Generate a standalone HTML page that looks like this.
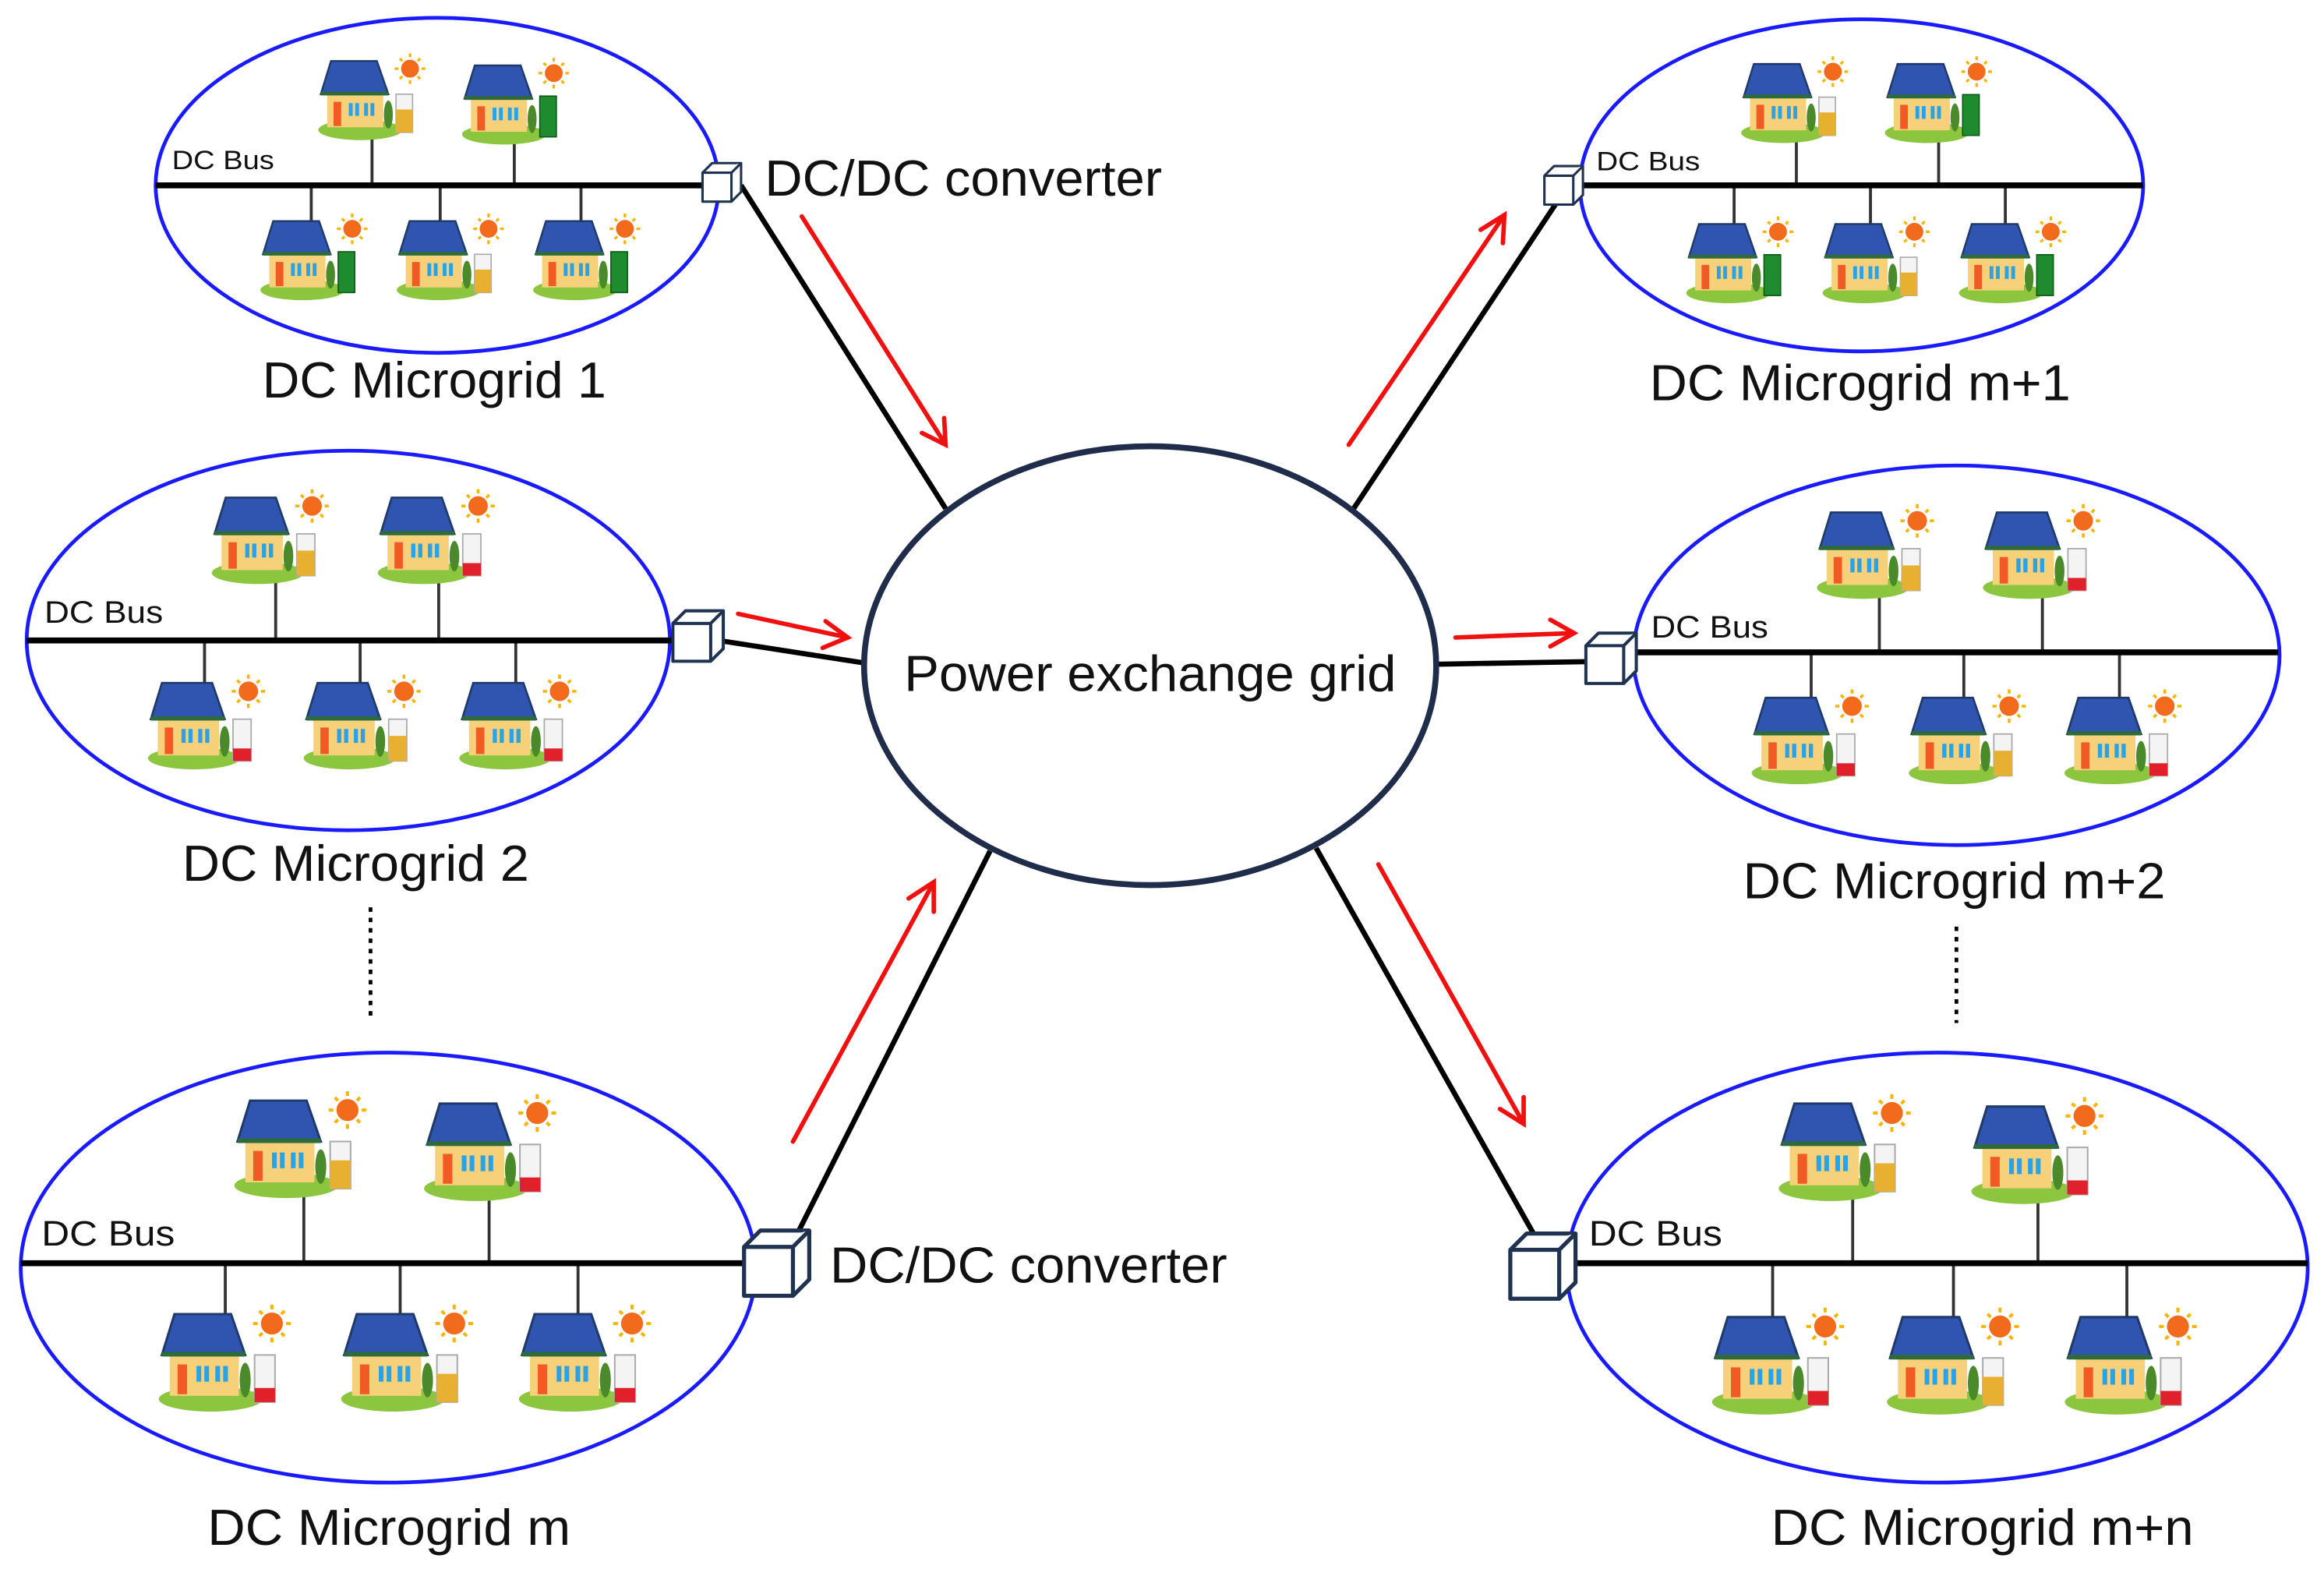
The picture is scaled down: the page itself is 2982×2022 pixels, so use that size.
<!DOCTYPE html>
<html><head><meta charset="utf-8"><style>
html,body{margin:0;padding:0;background:#fff;}
svg{display:block;}
text{font-family:"Liberation Sans",Arial,sans-serif;fill:#111;}
</style></head><body>
<svg width="2982" height="2022" viewBox="0 0 1568 1063" preserveAspectRatio="none" xmlns="http://www.w3.org/2000/svg">
<defs>
 <g id="hb">
  <ellipse cx="35" cy="60" rx="33" ry="8" fill="#8cc63f"/>
  <rect x="9" y="30" width="44" height="28" fill="#f7d07a"/>
  <polygon points="4,32 12,6 48,6 57,32" fill="#2f55b0" stroke="#1f3a6a" stroke-width="1.5"/>
  <rect x="4" y="30" width="53" height="3" fill="#2e6b3a"/>
  <rect x="14" y="38" width="6" height="19" fill="#f15a24"/>
  <rect x="26" y="39" width="3" height="10" fill="#29a3e8"/><rect x="31" y="39" width="3" height="10" fill="#29a3e8"/>
  <rect x="38" y="39" width="3" height="10" fill="#29a3e8"/><rect x="43" y="39" width="3" height="10" fill="#29a3e8"/>
  <ellipse cx="57" cy="48" rx="3.5" ry="11" fill="#4a8a2a"/>
  <circle cx="74" cy="12" r="7" fill="#f26b1d"/>
  <g stroke="#f7b500" stroke-width="2">
   <line x1="74" y1="0" x2="74" y2="3"/><line x1="74" y1="21" x2="74" y2="24"/>
   <line x1="62" y1="12" x2="65" y2="12"/><line x1="83" y1="12" x2="86" y2="12"/>
   <line x1="66" y1="4" x2="68" y2="6"/><line x1="80" y1="18" x2="82" y2="20"/>
   <line x1="82" y1="4" x2="80" y2="6"/><line x1="66" y1="20" x2="68" y2="18"/>
  </g>
 </g>
 <g id="hy"><use href="#hb"/><rect x="63" y="32" width="13" height="30" fill="#f4f4f4" stroke="#aaa"/><rect x="63" y="44" width="13" height="18" fill="#e8b030"/></g>
 <g id="hg"><use href="#hb"/><rect x="63" y="30" width="13" height="32" fill="#1e8c2e" stroke="#0d5a18"/></g>
 <g id="hr"><use href="#hb"/><rect x="63" y="32" width="13" height="30" fill="#f4f4f4" stroke="#aaa"/><rect x="63" y="53" width="13" height="9" fill="#e0202a"/></g>
</defs>

<g stroke="#000" stroke-width="3.5" fill="none">
 <line x1="500" y1="125" x2="638" y2="343"/>
 <line x1="485" y1="432" x2="582" y2="447"/>
 <line x1="535" y1="838" x2="668" y2="574"/>
 <line x1="912" y1="345" x2="1058" y2="125"/>
 <line x1="970" y1="448" x2="1085" y2="446"/>
 <line x1="888" y1="572" x2="1038" y2="838"/>
</g>

<ellipse cx="776" cy="449" rx="193" ry="148" fill="#fff" stroke="#1f2d4a" stroke-width="4"/>
<text x="610" y="466" font-size="34" textLength="332" lengthAdjust="spacingAndGlyphs">Power exchange grid</text>

<g stroke="#f01010" stroke-width="3" fill="none" stroke-linecap="round">
 <line x1="541" y1="146" x2="638" y2="300"/><polyline points="622,292 638,300 637,282"/>
 <line x1="498" y1="414" x2="572" y2="430"/><polyline points="557,419 572,430 555,437"/>
 <line x1="535" y1="770" x2="630" y2="595"/><polyline points="613,606 630,595 630,615"/>
 <line x1="910" y1="300" x2="1015" y2="145"/><polyline points="999,155 1015,145 1014,164"/>
 <line x1="982" y1="430" x2="1062" y2="427"/><polyline points="1046,418 1062,427 1046,436"/>
 <line x1="930" y1="583" x2="1028" y2="758"/><polyline points="1012,748 1028,758 1028,740"/>
</g>

<!-- Microgrid 1 -->
<ellipse cx="295" cy="125" rx="190" ry="113" fill="none" stroke="#1a1aff" stroke-width="2.5"/>
<g stroke="#333" stroke-width="2"><line x1="251" y1="90" x2="251" y2="125"/><line x1="347" y1="90" x2="347" y2="125"/><line x1="210" y1="125" x2="210" y2="160"/><line x1="297" y1="125" x2="297" y2="160"/><line x1="392" y1="125" x2="392" y2="160"/></g>
<line x1="105" y1="125" x2="478" y2="125" stroke="#000" stroke-width="4"/>
<use href="#hy" transform="translate(213,36) scale(0.86)"/>
<use href="#hg" transform="translate(310,39) scale(0.86)"/>
<use href="#hg" transform="translate(174,144) scale(0.86)"/>
<use href="#hy" transform="translate(266,144) scale(0.86)"/>
<use href="#hg" transform="translate(358,144) scale(0.86)"/>
<text x="116" y="114" font-size="18" textLength="69" lengthAdjust="spacingAndGlyphs">DC Bus</text>
<text x="177" y="268" font-size="34" textLength="232" lengthAdjust="spacingAndGlyphs">DC Microgrid 1</text>
<text x="516" y="132" font-size="34" textLength="268" lengthAdjust="spacingAndGlyphs">DC/DC converter</text>

<!-- Microgrid 2 -->
<ellipse cx="235" cy="432" rx="217" ry="128" fill="none" stroke="#1a1aff" stroke-width="2.5"/>
<g stroke="#333" stroke-width="2"><line x1="186" y1="385" x2="186" y2="432"/><line x1="296" y1="385" x2="296" y2="432"/><line x1="138" y1="432" x2="138" y2="470"/><line x1="243" y1="432" x2="243" y2="470"/><line x1="348" y1="432" x2="348" y2="470"/></g>
<line x1="18" y1="432" x2="458" y2="432" stroke="#000" stroke-width="4"/>
<use href="#hy" transform="translate(141,330) scale(0.94)"/>
<use href="#hr" transform="translate(253,330) scale(0.94)"/>
<use href="#hr" transform="translate(98,455) scale(0.94)"/>
<use href="#hy" transform="translate(203,455) scale(0.94)"/>
<use href="#hr" transform="translate(308,455) scale(0.94)"/>
<text x="30" y="420" font-size="21" textLength="80" lengthAdjust="spacingAndGlyphs">DC Bus</text>
<text x="123" y="594" font-size="34" textLength="234" lengthAdjust="spacingAndGlyphs">DC Microgrid 2</text>
<line x1="250" y1="612" x2="250" y2="685" stroke="#000" stroke-width="2.5" stroke-dasharray="3,4"/>

<!-- Microgrid m -->
<ellipse cx="262" cy="855" rx="248" ry="145" fill="none" stroke="#1a1aff" stroke-width="2.5"/>
<g stroke="#333" stroke-width="2"><line x1="205" y1="800" x2="205" y2="852"/><line x1="330" y1="800" x2="330" y2="852"/><line x1="152" y1="852" x2="152" y2="895"/><line x1="270" y1="852" x2="270" y2="895"/><line x1="390" y1="852" x2="390" y2="895"/></g>
<line x1="14" y1="852" x2="505" y2="852" stroke="#000" stroke-width="4"/>
<use href="#hy" transform="translate(156,736) scale(1.06)"/>
<use href="#hr" transform="translate(284,738) scale(1.06)"/>
<use href="#hr" transform="translate(105,880) scale(1.06)"/>
<use href="#hy" transform="translate(228,880) scale(1.06)"/>
<use href="#hr" transform="translate(348,880) scale(1.06)"/>
<text x="28" y="840" font-size="24" textLength="90" lengthAdjust="spacingAndGlyphs">DC Bus</text>
<text x="140" y="1042" font-size="34" textLength="245" lengthAdjust="spacingAndGlyphs">DC Microgrid m</text>
<text x="560" y="865" font-size="34" textLength="268" lengthAdjust="spacingAndGlyphs">DC/DC converter</text>

<!-- Microgrid m+1 -->
<ellipse cx="1256" cy="125" rx="190" ry="112" fill="none" stroke="#1a1aff" stroke-width="2.5"/>
<g stroke="#333" stroke-width="2"><line x1="1212" y1="90" x2="1212" y2="125"/><line x1="1308" y1="90" x2="1308" y2="125"/><line x1="1170" y1="125" x2="1170" y2="160"/><line x1="1262" y1="125" x2="1262" y2="160"/><line x1="1353" y1="125" x2="1353" y2="160"/></g>
<line x1="1063" y1="125" x2="1446" y2="125" stroke="#000" stroke-width="4"/>
<use href="#hy" transform="translate(1173,38) scale(0.86)"/>
<use href="#hg" transform="translate(1270,38) scale(0.86)"/>
<use href="#hg" transform="translate(1136,146) scale(0.86)"/>
<use href="#hy" transform="translate(1228,146) scale(0.86)"/>
<use href="#hg" transform="translate(1320,146) scale(0.86)"/>
<text x="1077" y="115" font-size="18" textLength="70" lengthAdjust="spacingAndGlyphs">DC Bus</text>
<text x="1113" y="270" font-size="34" textLength="284" lengthAdjust="spacingAndGlyphs">DC Microgrid m+1</text>

<!-- Microgrid m+2 -->
<ellipse cx="1320" cy="442" rx="218" ry="128" fill="none" stroke="#1a1aff" stroke-width="2.5"/>
<g stroke="#333" stroke-width="2"><line x1="1268" y1="395" x2="1268" y2="440"/><line x1="1378" y1="395" x2="1378" y2="440"/><line x1="1222" y1="440" x2="1222" y2="480"/><line x1="1325" y1="440" x2="1325" y2="480"/><line x1="1430" y1="440" x2="1430" y2="480"/></g>
<line x1="1100" y1="440" x2="1537" y2="440" stroke="#000" stroke-width="4"/>
<use href="#hy" transform="translate(1224,340) scale(0.94)"/>
<use href="#hr" transform="translate(1336,340) scale(0.94)"/>
<use href="#hr" transform="translate(1180,465) scale(0.94)"/>
<use href="#hy" transform="translate(1286,465) scale(0.94)"/>
<use href="#hr" transform="translate(1391,465) scale(0.94)"/>
<text x="1114" y="430" font-size="21" textLength="79" lengthAdjust="spacingAndGlyphs">DC Bus</text>
<text x="1176" y="606" font-size="34" textLength="285" lengthAdjust="spacingAndGlyphs">DC Microgrid m+2</text>
<line x1="1320" y1="625" x2="1320" y2="690" stroke="#000" stroke-width="2.5" stroke-dasharray="3,4"/>

<!-- Microgrid m+n -->
<ellipse cx="1307" cy="855" rx="250" ry="145" fill="none" stroke="#1a1aff" stroke-width="2.5"/>
<g stroke="#333" stroke-width="2"><line x1="1250" y1="800" x2="1250" y2="852"/><line x1="1375" y1="800" x2="1375" y2="852"/><line x1="1196" y1="852" x2="1196" y2="895"/><line x1="1318" y1="852" x2="1318" y2="895"/><line x1="1435" y1="852" x2="1435" y2="895"/></g>
<line x1="1058" y1="852" x2="1557" y2="852" stroke="#000" stroke-width="4"/>
<use href="#hy" transform="translate(1198,738) scale(1.06)"/>
<use href="#hr" transform="translate(1328,740) scale(1.06)"/>
<use href="#hr" transform="translate(1153,882) scale(1.06)"/>
<use href="#hy" transform="translate(1271,882) scale(1.06)"/>
<use href="#hr" transform="translate(1391,882) scale(1.06)"/>
<text x="1072" y="840" font-size="24" textLength="90" lengthAdjust="spacingAndGlyphs">DC Bus</text>
<text x="1195" y="1042" font-size="34" textLength="285" lengthAdjust="spacingAndGlyphs">DC Microgrid m+n</text>

<g fill="#fff" stroke="#1f3350" stroke-width="2.5" stroke-linejoin="round">
 <g transform="translate(474,110) scale(0.65)"><path d="M0,10 L10,0 L40,0 L40,30 L30,40 L0,40 Z"/><path d="M0,10 L30,10 L40,0 M30,10 L30,40"/></g>
 <g transform="translate(454,412) scale(0.85)"><path d="M0,10 L10,0 L40,0 L40,30 L30,40 L0,40 Z"/><path d="M0,10 L30,10 L40,0 M30,10 L30,40"/></g>
 <g transform="translate(502,830) scale(1.1)"><path d="M0,10 L10,0 L40,0 L40,30 L30,40 L0,40 Z"/><path d="M0,10 L30,10 L40,0 M30,10 L30,40"/></g>
 <g transform="translate(1042,112) scale(0.65)"><path d="M0,10 L10,0 L40,0 L40,30 L30,40 L0,40 Z"/><path d="M0,10 L30,10 L40,0 M30,10 L30,40"/></g>
 <g transform="translate(1070,427) scale(0.85)"><path d="M0,10 L10,0 L40,0 L40,30 L30,40 L0,40 Z"/><path d="M0,10 L30,10 L40,0 M30,10 L30,40"/></g>
 <g transform="translate(1019,832) scale(1.1)"><path d="M0,10 L10,0 L40,0 L40,30 L30,40 L0,40 Z"/><path d="M0,10 L30,10 L40,0 M30,10 L30,40"/></g>
</g>
</svg>
</body></html>
